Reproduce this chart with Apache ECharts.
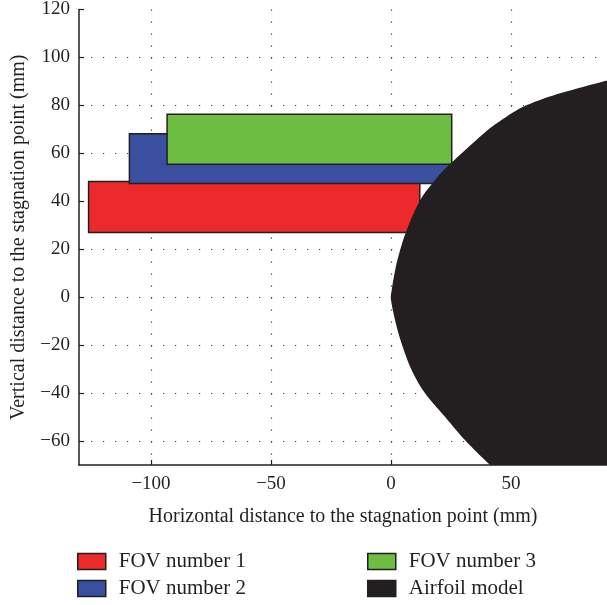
<!DOCTYPE html>
<html>
<head>
<meta charset="utf-8">
<script src="https://cdn.jsdelivr.net/npm/echarts@6/dist/echarts.min.js"></script>
<style>html,body{margin:0;padding:0;background:#fff}#c{width:607px;height:605px}</style>
</head>
<body>
<div id="c"></div>
<script>
// FOV rectangles: [xMin, xMax, yMin, yMax] in mm
const fovNames = ['FOV number 1', 'FOV number 2', 'FOV number 3'];
const fov1 = [-126, 12, 27, 48.3];
const fov2 = [-109, 25, 47.4, 68.2];
const fov3 = [-93.3, 25.3, 55.4, 76.3];
// Airfoil outline (mm), read along the leading edge from top-right to bottom-right
const airfoilX = [90, 69, 55.5, 46.5, 39, 24, 18.3, 12.1, 6.5, 3.0, 1.3, 0.3, 0, 1.7, 4.4, 8.6, 14.2, 22.5, 30.8, 40.5, 50];
const airfoilY = [90.4, 84.6, 79.6, 74.2, 68.6, 55, 48.75, 40.4, 27.9, 16.8, 9, 3, -1, -9.6, -19.3, -30.4, -40.1, -49.9, -59.6, -69.3, -78];
// closing corners of the airfoil body (outside the visible window)
const airfoilCloseX = [130, 130];
const airfoilCloseY = [-110, 100];
const xRange = [-130, 90];
const yRange = [-70, 120];

const ink = '#231f20';
const colors = ['#ed2a2b', '#3a4f9f', '#6ebe44', '#231f20'];
const font = 'Liberation Serif';

function rectRender(params, api) {
  const p0 = api.coord([api.value(0), api.value(3)]);
  const p1 = api.coord([api.value(1), api.value(2)]);
  return {
    type: 'rect',
    shape: { x: p0[0], y: p0[1], width: p1[0] - p0[0], height: p1[1] - p0[1] },
    style: { fill: colors[params.seriesIndex], stroke: ink, lineWidth: 1.5 }
  };
}

const airfoilData = airfoilX.map((x, i) => [x, airfoilY[i]]);

function catmullRom(pts, steps) {
  const out = [];
  const n = pts.length;
  for (let i = 0; i < n - 1; i++) {
    const p0 = pts[Math.max(0, i - 1)], p1 = pts[i], p2 = pts[i + 1], p3 = pts[Math.min(n - 1, i + 2)];
    for (let s = 0; s < steps; s++) {
      const t = s / steps, t2 = t * t, t3 = t2 * t;
      const f = k => 0.5 * ((2 * p1[k]) + (-p0[k] + p2[k]) * t + (2 * p0[k] - 5 * p1[k] + 4 * p2[k] - p3[k]) * t2 + (-p0[k] + 3 * p1[k] - 3 * p2[k] + p3[k]) * t3);
      out.push([f(0), f(1)]);
    }
  }
  out.push(pts[n - 1]);
  return out;
}

const fovSeries = [fov1, fov2, fov3].map((d, i) => ({
  name: fovNames[i],
  type: 'custom',
  renderItem: rectRender,
  encode: { x: [0, 1], y: [2, 3] },
  itemStyle: { color: colors[i], borderColor: ink, borderWidth: 1.5 },
  data: [d],
  z: 2 + i
}));

const airfoilSeries = {
  name: 'Airfoil model',
  type: 'custom',
  z: 10,
  itemStyle: { color: colors[3], borderColor: ink, borderWidth: 1.5 },
  encode: { x: 0, y: 1 },
  data: airfoilData,
  renderItem: function (params, api) {
    if (params.dataIndex !== 0) return null;
    const curve = catmullRom(airfoilData.map(p => api.coord(p)), 10);
    const close = airfoilCloseX.map((x, i) => api.coord([x, airfoilCloseY[i]]));
    const pts = curve.concat(close);
    const cs = params.coordSys;
    return {
      type: 'group',
      clipPath: { type: 'rect', shape: { x: cs.x, y: cs.y, width: cs.width, height: cs.height } },
      children: [{
        type: 'polygon',
        shape: { points: pts },
        style: { fill: colors[3], stroke: null }
      }]
    };
  }
};

const fmt = v => String(v).replace('-', '\u2212');
const gridLine = { show: true, showMinLine: false, showMaxLine: false,
  lineStyle: { color: '#444', width: 1.2, type: [1.2, 10.8] } };

const chart = echarts.init(document.getElementById('c'));
chart.setOption({
  animation: false,
  backgroundColor: '#fff',
  grid: { left: 79, top: 9, right: 0, bottom: 140, containLabel: false },
  xAxis: {
    type: 'value', min: xRange[0], max: xRange[1],
    name: 'Horizontal distance to the stagnation point (mm)',
    nameLocation: 'middle', nameGap: 42,
    nameTextStyle: { fontFamily: font, fontSize: 20, color: ink },
    axisLine: { show: true, onZero: false, lineStyle: { color: ink, width: 1.5 } },
    axisTick: { show: true, inside: true, length: 5, lineStyle: { color: ink, width: 1.2 } },
    axisLabel: { showMinLabel: false, showMaxLabel: false, margin: 10, formatter: fmt,
      fontFamily: font, fontSize: 19, color: ink },
    splitLine: gridLine
  },
  yAxis: {
    type: 'value', min: yRange[0], max: yRange[1], splitNumber: 10,
    name: 'Vertical distance to the stagnation point (mm)',
    nameLocation: 'middle', nameGap: 50,
    nameTextStyle: { fontFamily: font, fontSize: 20, color: ink },
    axisLine: { show: true, onZero: false, lineStyle: { color: ink, width: 1.5 } },
    axisTick: { show: true, inside: true, length: 5, lineStyle: { color: ink, width: 1.2 } },
    axisLabel: { showMinLabel: false, margin: 9, formatter: fmt,
      fontFamily: font, fontSize: 19, color: ink },
    splitLine: gridLine
  },
  legend: [
    { data: [fovNames[0], fovNames[1]], left: 77, top: 551 },
    { data: [fovNames[2], 'Airfoil model'], left: 367, top: 551 }
  ].map(l => Object.assign(l, {
    orient: 'vertical', icon: 'rect', itemWidth: 28, itemHeight: 16, itemGap: 6, padding: 0,
    selectedMode: false,
    itemStyle: { borderColor: ink, borderWidth: 1.5 },
    textStyle: { fontFamily: font, fontSize: 21, color: ink, padding: [0, 0, 0, 8] }
  })),
  series: [...fovSeries, airfoilSeries]
});
</script>
</body>
</html>
